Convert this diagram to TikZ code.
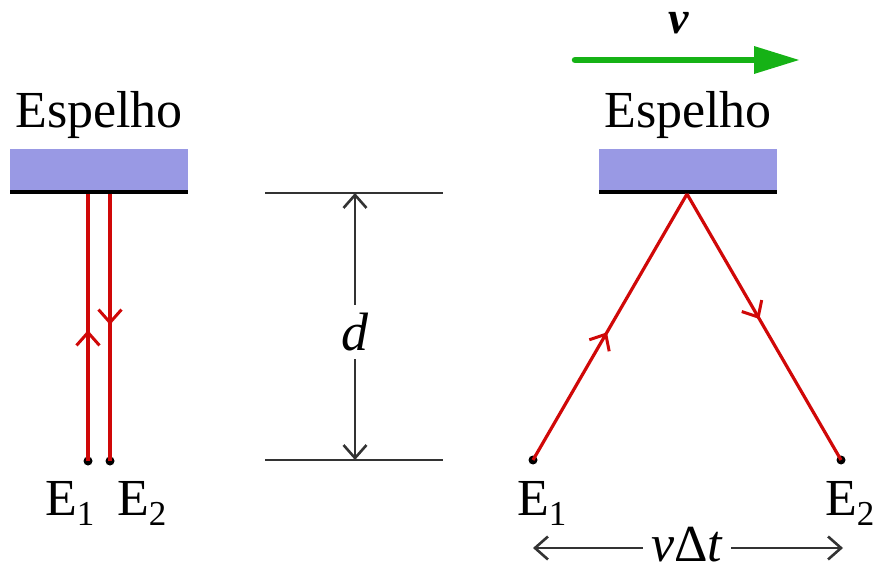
\documentclass[tikz,border=0pt]{standalone}
\usepackage{fontspec}
\setmainfont{Liberation Serif}
\usetikzlibrary{arrows.meta,decorations.markings}
\definecolor{mirror}{RGB}{153,153,228}
\definecolor{ray}{RGB}{208,8,8}
\definecolor{vel}{RGB}{22,178,22}
\newcommand\mysub[1]{\raisebox{-0.2em}{\fontsize{35}{35}\selectfont #1}}
\tikzset{
  x=1pt,y=-1pt,
  big/.style={font=\fontsize{52}{54}\selectfont, inner sep=0pt},
  mirrorbox/.style={fill=mirror, draw=none},
  raypath/.style={draw=ray, line width=3.2pt,
    postaction={decorate},
    decoration={markings, mark=at position #1 with {\arrow[ray, line width=3pt]{Straight Barb[length=13pt,width=23pt]}}}},
  raypath/.default=0.48,
  dim/.style={draw=black!80, line width=2.6pt},
  dimarrow/.style={dim, -{Straight Barb[length=13pt,width=23pt]}},
  emitter/.style={circle, fill=black, inner sep=0pt, minimum size=9pt},
}
\begin{document}
\begin{tikzpicture}
\useasboundingbox (0,0) rectangle (873,564);
% ---- left mirror
\fill[mirrorbox] (10,149) rectangle (188,192);
\draw[line width=3.5pt] (10,192) -- (188,192);
\node[big, anchor=base] (espL) at (99,128) {Espelho};
\node[emitter] (E1L) at (88,461) {};
\node[emitter] (E2L) at (110,461) {};
\coordinate (M1L) at (88,194);
\coordinate (M2L) at (110,194);
\draw[raypath=0.49] (E1L.center) -- (M1L);
\draw[raypath=0.49] (M2L) -- (E2L.center);
\node[big, anchor=base west] (lE1) at (45,515) {E\mysub{1}};
\node[big, anchor=base west] (lE2) at (117,515) {E\mysub{2}};
% ---- middle
\coordinate (T1) at (265,193); \coordinate (T2) at (443,193);
\coordinate (B1) at (265,460); \coordinate (B2) at (443,460);
\draw[dim] (T1) -- (T2);
\draw[dim] (B1) -- (B2);
\node[big, font=\fontsize{54}{56}\selectfont\itshape, inner ysep=8pt] (d) at (355,332) {d};
\coordinate (dT) at (355,193); \coordinate (dB) at (355,460);
\draw[dimarrow] (d) -- (dT);
\draw[dimarrow] (d) -- (dB);
% ---- right
\draw[-{Triangle[length=46pt,width=26pt]}, vel, line width=6.5pt, line cap=round] (575,60) -- (800,60);
\node[big, font=\fontsize{46}{48}\selectfont\bfseries\itshape, anchor=base] (v) at (679,34) {v};
\fill[mirrorbox] (599,149) rectangle (777,192);
\draw[line width=3.5pt] (599,192) -- (777,192);
\node[big, anchor=base] (espR) at (688,128) {Espelho};
\node[emitter] (E1R) at (533,460) {};
\node[emitter] (E2R) at (841,460) {};
\coordinate (apex) at (687,194);
\draw[raypath=0.48] (E1R.center) -- (apex);
\draw[raypath=0.47] (apex) -- (E2R.center);
\node[big, anchor=base west] (rE1) at (517,515) {E\mysub{1}};
\node[big, anchor=base west] (rE2) at (825,515) {E\mysub{2}};
\node[big, font=\fontsize{52}{54}\selectfont, anchor=base, inner xsep=8pt] (vdt) at (687,561) {\textit{v}Δ\textit{t}};
\coordinate (aL) at (533,548); \coordinate (aR) at (843,548);
\draw[dimarrow] (vdt.west |- aL) -- (aL);
\draw[dimarrow] (vdt.east |- aR) -- (aR);
\end{tikzpicture}
\end{document}
